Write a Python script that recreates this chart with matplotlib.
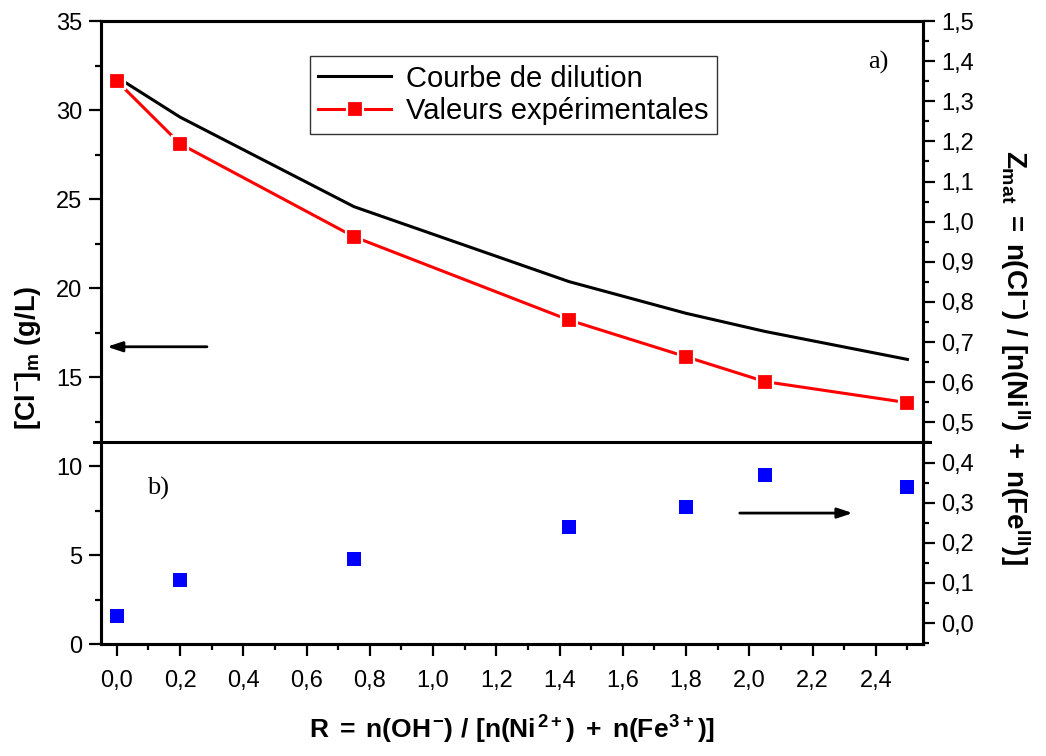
import numpy as np
from matplotlib import pyplot as plt
from matplotlib.ticker import MultipleLocator, FuncFormatter

# donnees
R = [0.0, 0.2, 0.75, 1.43, 1.8, 2.05, 2.5]
cl_dilution = [31.85, 29.6, 24.57, 20.36, 18.58, 17.56, 15.99]
cl_exp = [31.63, 28.1, 22.88, 18.2, 16.14, 14.74, 13.56]
z_mat = [0.018, 0.108, 0.159, 0.239, 0.288, 0.369, 0.34]

plt.rcParams['font.family'] = ['Liberation Sans', 'DejaVu Sans']
plt.rcParams['mathtext.fontset'] = 'custom'
plt.rcParams['mathtext.rm'] = 'Liberation Sans:bold'
plt.rcParams['mathtext.it'] = 'Liberation Sans:bold'
plt.rcParams['mathtext.bf'] = 'Liberation Sans:bold'

virgule = lambda v, p: f'{v:.1f}'.replace('.', ',')

fig = plt.figure(figsize=(10.46, 7.56), dpi=100)
ax = fig.add_axes([0.0966, 0.1481, 0.7854, 0.8241])
ax2 = ax.twinx()

ax.plot(R, cl_dilution, color='black', lw=2.2, zorder=3, label='Courbe de dilution')
ax.plot(R, cl_exp, color='red', lw=2.2, marker='s', ms=12, mfc='red', mec='white', mew=1.6,
        zorder=4, label='Valeurs expérimentales')
ax2.plot(R, z_mat, ls='none', marker='s', ms=10.5, color='blue', mew=0)

ax.set_xlim(-0.05, 2.548)
ax.set_ylim(0, 35)
ax2.set_ylim(-0.0523, 1.5)

ax2.axhline(0.45, xmin=-0.009, xmax=1.009, color='black', lw=2.2, clip_on=False)

ax.xaxis.set_major_locator(MultipleLocator(0.2))
ax.xaxis.set_minor_locator(MultipleLocator(0.1))
ax.xaxis.set_major_formatter(FuncFormatter(virgule))
ax.yaxis.set_major_locator(MultipleLocator(5))
ax.yaxis.set_minor_locator(MultipleLocator(2.5))
ax2.yaxis.set_major_locator(MultipleLocator(0.1))
ax2.yaxis.set_minor_locator(MultipleLocator(0.05))
ax2.yaxis.set_major_formatter(FuncFormatter(virgule))

for a in (ax, ax2):
    a.tick_params(which='major', direction='out', length=8.5, width=1.6, labelsize=17, pad=5)
    a.tick_params(which='minor', direction='out', length=4.5, width=1.6)
    for s in a.spines.values():
        s.set_linewidth(2.2)
ax.tick_params(axis='x', which='major', pad=10)

# fleches
ax.annotate('', xy=(-0.031, 16.7), xytext=(0.285, 16.7),
            arrowprops=dict(arrowstyle='-|>,head_length=0.9,head_width=0.3', color='black',
                            lw=2, shrinkA=0, shrinkB=0))
ax2.annotate('', xy=(2.327, 0.274), xytext=(1.97, 0.274),
             arrowprops=dict(arrowstyle='-|>,head_length=0.9,head_width=0.3', color='black',
                             lw=2, shrinkA=0, shrinkB=0))

ax.text(0.9456, 0.934, 'a)', transform=ax.transAxes, ha='center', va='center',
        family='Liberation Serif', fontsize=19)
ax.text(0.069, 0.250, 'b)', transform=ax.transAxes, ha='center', va='center',
        family='Liberation Serif', fontsize=19)

ax.set_xlabel(r'$R\;=\;n(OH^{-})\ /\ [n(Ni^{2+})\;+\;n(Fe^{3+})]$', fontsize=19, va='center')
ax.xaxis.set_label_coords(0.5, -0.138)
ax.set_ylabel(r'$[Cl^{-}]_{m}\ (g/L)$', fontsize=19.5, va='center')
ax.yaxis.set_label_coords(-0.089, 0.46)
ax2.set_ylabel(r'$Z_{mat}\;=\;n(Cl^{-})\ /\ [n(Ni^{II})\;+\;n(Fe^{III})]$', fontsize=20,
               rotation=-90, va='center')
ax2.yaxis.set_label_coords(1.112, 0.46)

leg = ax.legend(loc='upper left', bbox_to_anchor=(0.254, 0.944), borderaxespad=0,
                fontsize=21, frameon=True, fancybox=False, edgecolor='black',
                handlelength=2.5, handletextpad=0.5, labelspacing=0.15, borderpad=0.3)
leg.get_frame().set_linewidth(1.0)

fig.savefig('out.png', dpi=100)
